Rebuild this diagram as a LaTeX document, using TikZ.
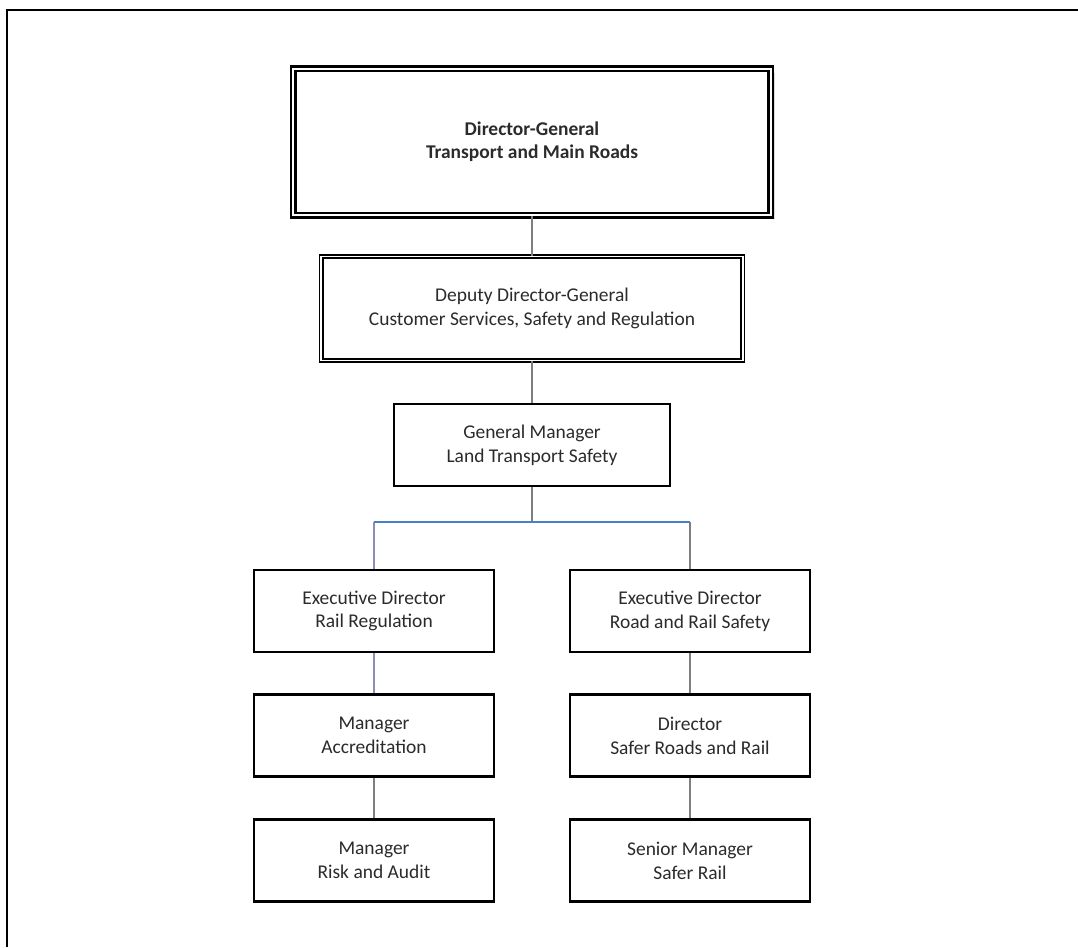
\documentclass[tikz,border=0pt]{standalone}
\usepackage{fontspec}
\setmainfont{Carlito}
\usetikzlibrary{shadows}

\definecolor{linkgrey}{HTML}{7F7F7F}
\definecolor{busblue}{HTML}{4A7EC8}
\definecolor{droplilac}{HTML}{8C8FB5}
\definecolor{textgrey}{HTML}{2B2B2B}

\tikzset{
  post/.style={draw, line width=1.7pt, fill=white, text=textgrey, align=center,
    inner sep=0pt, minimum width=180pt, minimum height=61.5pt,
    font=\fontsize{14.6}{17.8}\selectfont},
  headpost/.style={post, double, line width=1.7pt, double distance=1.5pt,
    minimum width=358pt, minimum height=110pt,
    font=\fontsize{14.6}{17.5}\selectfont\bfseries,
    drop shadow={shadow xshift=3pt, shadow yshift=-3pt, opacity=0.3}},
  deputypost/.style={post, double, line width=1.2pt, double distance=1.4pt,
    minimum width=316pt, minimum height=78pt,
    font=\fontsize{14.6}{18.6}\selectfont},
  link/.style={draw=linkgrey, line width=1.7pt},
  buslink/.style={draw=busblue, line width=1.9pt},
}

\begin{document}
\begin{tikzpicture}[x=0.75pt, y=-0.75pt]
  \useasboundingbox (0,0) rectangle (1078,947);

  % frame
  \draw[line width=2.2pt] (7,947) -- (7,10) -- (1078,10);

  % Top of the chart
  \node[headpost]   (dg)  at (532,142)   {Director-General\\Transport and Main Roads};
  \node[deputypost] (ddg) at (532,308.5) {Deputy Director-General\\Customer Services, Safety and Regulation};
  \node[post, minimum width=207pt] (gm) at (532,445) {General Manager\\Land Transport Safety};

  % Left column
  \node[post] (edrail) at (374,611)   {Executive Director\\Rail Regulation};
  \node[post] (macc)   at (374,735.5) {Manager\\Accreditation};
  \node[post] (mrisk)  at (374,860.5) {Manager\\Risk and Audit};

  % Right column
  \node[post] (edroad) at (690,611)   {Executive Director\\Road and Rail Safety};
  \node[post] (dsafer) at (690,735.5) {Director\\Safer Roads and Rail};
  \node[post] (smrail) at (690,860.5) {Senior Manager\\Safer Rail};

  \coordinate (bus) at (532,522);

  % Connectors
  \draw[link] (dg) -- (ddg);
  \draw[link] (ddg) -- (gm);
  \draw[link] (gm) -- (bus);
  \draw[link, draw=droplilac] (bus -| edrail) -- (edrail);
  \draw[link] (bus -| edroad) -- (edroad);
  \draw[buslink] (bus -| edrail) -- (bus -| edroad);

  \draw[link, draw=droplilac] (edrail) -- (macc);
  \draw[link] (macc) -- (mrisk);
  \draw[link] (edroad) -- (dsafer);
  \draw[link] (dsafer) -- (smrail);
\end{tikzpicture}
\end{document}
